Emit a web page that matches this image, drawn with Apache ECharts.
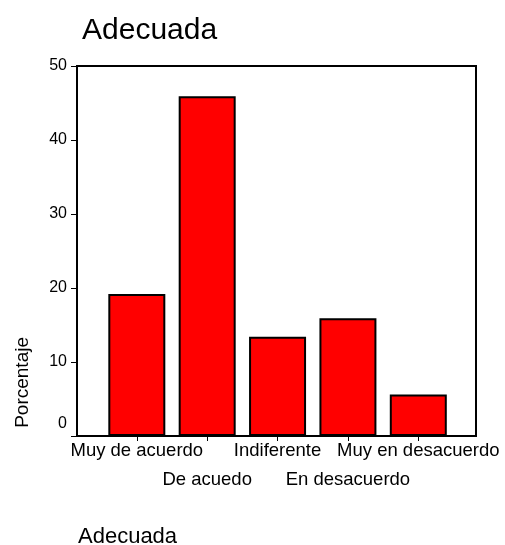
<!DOCTYPE html>
<html><head><meta charset="utf-8">
<script src="https://cdn.jsdelivr.net/npm/echarts@6/dist/echarts.min.js"></script>
<style>html,body{margin:0;padding:0;background:#fff}#c{width:505px;height:545px}</style>
</head><body><div id="c"></div>
<script>
const categories = ['Muy de acuerdo', 'De acuedo', 'Indiferente', 'En desacuerdo', 'Muy en desacuerdo'];
const percentages = [19.2, 45.9, 13.4, 15.9, 5.6];
const yTicks = [0, 10, 20, 30, 40, 50];

const chart = echarts.init(document.getElementById('c'));
const F = 'Liberation Sans, Arial, sans-serif';
const catIdx = categories.map((c, i) => i);
const labelFmt = function (v) { return categories[Math.round(v)]; };
chart.setOption({
  animation: false,
  backgroundColor: '#fff',
  title: [
    { text: 'Adecuada', left: 77, top: 11, textStyle: { fontFamily: F, fontSize: 30, fontWeight: 'normal', color: '#000' } },
    { text: 'Adecuada', left: 73, top: 521, textStyle: { fontFamily: F, fontSize: 22, fontWeight: 'normal', color: '#000' } }
  ],
  graphic: [{
    type: 'text', left: 13, top: 337, rotation: Math.PI / 2,
    style: { text: 'Porcentaje', font: '19px ' + F, fill: '#000' }
  }],
  grid: { left: 77, right: 29, top: 66, bottom: 109, show: true, borderColor: '#000', borderWidth: 2, backgroundColor: 'transparent' },
  xAxis: [{
    type: 'value', min: -0.85, max: 4.82, position: 'bottom',
    splitLine: { show: false },
    axisLine: { show: true, onZero: false, lineStyle: { color: '#000', width: 2 } },
    axisTick: { show: true, customValues: catIdx, length: 5, lineStyle: { color: '#000', width: 1 } },
    axisLabel: {
      customValues: catIdx.filter(i => i % 2 === 0), margin: 5, hideOverlap: false,
      fontFamily: F, fontSize: 18.5, color: '#000', formatter: labelFmt
    }
  }, {
    type: 'value', min: -0.85, max: 4.82, position: 'bottom',
    splitLine: { show: false },
    axisLine: { show: false, onZero: false },
    axisTick: { show: false },
    axisLabel: {
      customValues: catIdx.filter(i => i % 2 === 1), margin: 34, hideOverlap: false,
      fontFamily: F, fontSize: 18.5, color: '#000', formatter: labelFmt
    }
  }],
  yAxis: {
    type: 'value', min: 0, max: 50, interval: 10,
    splitLine: { show: false },
    axisLine: { show: true, onZero: false, lineStyle: { color: '#000', width: 2 } },
    axisTick: { show: true, length: 6, lineStyle: { color: '#000', width: 1 } },
    axisLabel: {
      margin: 10,
      formatter: function (v) { return v === 0 ? '{z|0}' : '{n|' + v + '}'; },
      rich: {
        z: { fontFamily: F, fontSize: 16, color: '#000', padding: [0, 0, 25, 0] },
        n: { fontFamily: F, fontSize: 16, color: '#000' }
      }
    }
  },
  series: [{
    type: 'bar', barWidth: 57, xAxisIndex: 0,
    data: percentages.map((v, i) => [i, v]),
    itemStyle: { color: '#ff0000', borderColor: '#000', borderWidth: 2 }
  }]
});
</script></body></html>
